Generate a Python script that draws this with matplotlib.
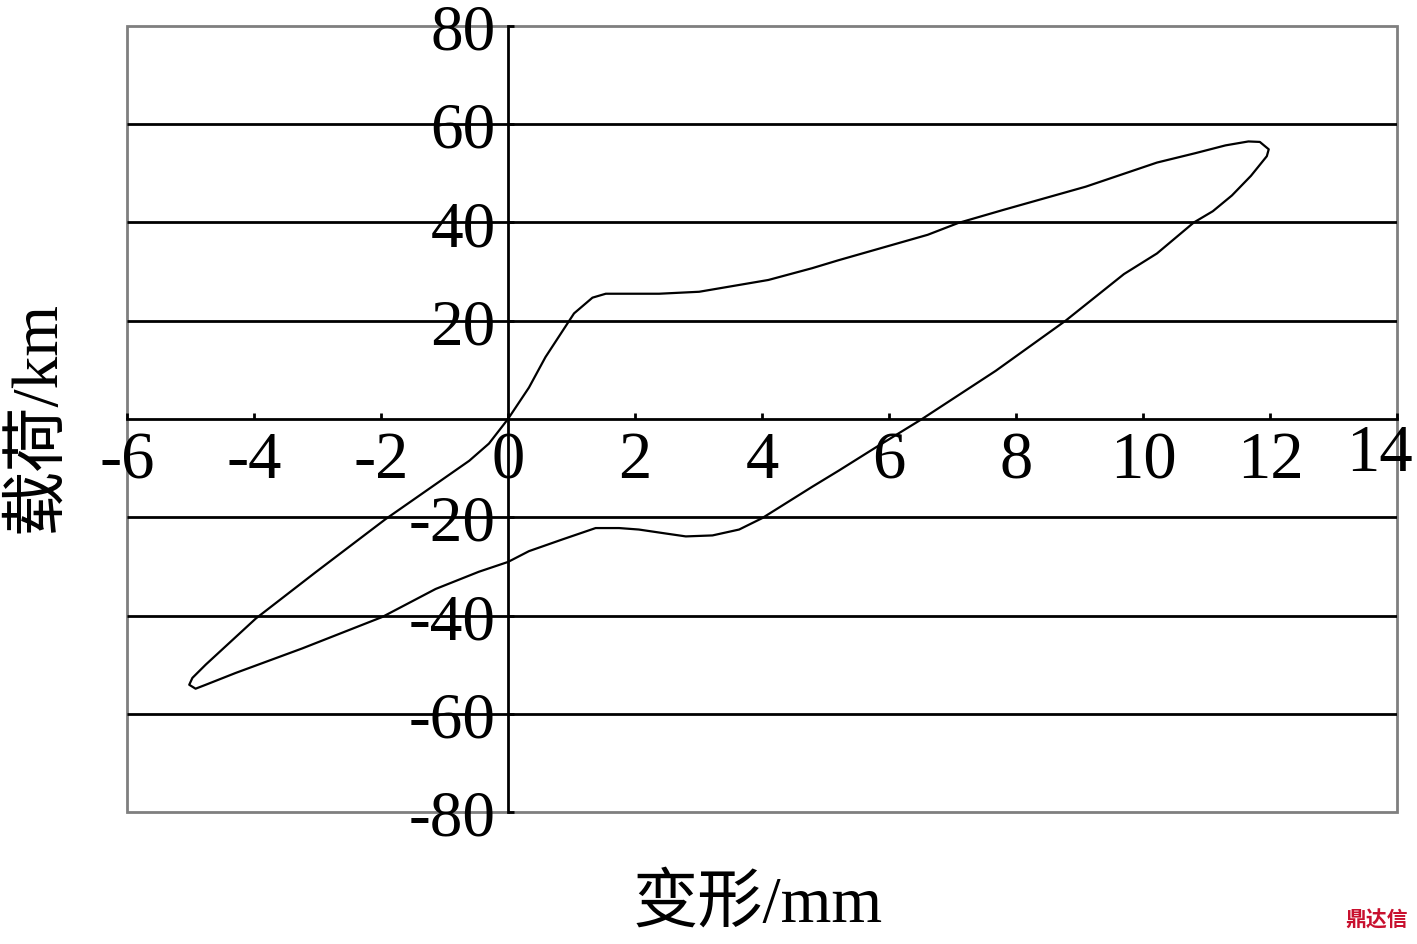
import matplotlib.pyplot as plt
from matplotlib.patches import Rectangle
from matplotlib.transforms import ScaledTranslation

plt.rcParams['font.family'] = ['Liberation Serif', 'Noto Sans CJK SC', 'DejaVu Sans']

# hysteresis loop (deformation mm, load)
deform = [0, 0.33, 0.59, 1.04, 1.33, 1.54, 2.38, 3.01, 4.1, 4.79, 5.2,
          6.61, 7.09, 7.81, 9.1, 10.22, 10.82, 11.3, 11.66, 11.84, 11.98,
          11.95, 11.7, 11.4, 11.1, 10.8, 10.22, 9.7, 8.78, 7.68, 6.52, 5.79,
          5.21, 4.79, 4.0, 3.64, 3.22, 2.8, 2.48, 2.06, 1.75, 1.38, 0.86,
          0.33, 0, -0.46, -1.14, -1.98, -3.24, -4.29, -4.76, -4.92, -5.02,
          -4.97, -4.76, -3.97, -3.03, -1.93, -0.61, -0.30, 0]
load = [0, 6.4, 12.6, 21.5, 24.7, 25.5, 25.5, 25.9, 28.3, 30.7, 32.3,
        37.5, 39.9, 42.6, 47.3, 52.2, 54.1, 55.7, 56.5, 56.4, 54.9,
        53.5, 49.5, 45.5, 42.3, 40.0, 33.7, 29.5, 20.0, 9.8, 0, -5.8,
        -10.5, -13.8, -20.2, -22.5, -23.7, -23.9, -23.3, -22.5, -22.2, -22.2, -24.5,
        -26.9, -29.1, -31.1, -34.6, -40.3, -46.7, -51.7, -54.1, -54.9, -54.1,
        -52.7, -50.0, -40.6, -31.2, -20.4, -8.5, -5.0, 0]

x_ticks = [-6, -4, -2, 0, 2, 4, 6, 8, 10, 12, 14]
y_ticks = [-80, -60, -40, -20, 20, 40, 60, 80]
grid_levels = [-60, -40, -20, 20, 40, 60]

fig = plt.figure(figsize=(14.17, 9.45), dpi=100)
ax = fig.add_axes([127 / 1417, 1 - 813 / 945, 1270 / 1417, 786 / 945])
ax.set_xlim(-6, 14)
ax.set_ylim(-80, 80)

# gray outer frame
ax.add_patch(Rectangle((0, 0), 1, 1, transform=ax.transAxes, fill=False,
                       edgecolor='#7f7f7f', lw=2, clip_on=False, zorder=1))
ax.spines['top'].set_visible(False)
ax.spines['right'].set_visible(False)

# axes through the origin
for side in ['left', 'bottom']:
    ax.spines[side].set_position(('data', 0))
    ax.spines[side].set_color('black')
    ax.spines[side].set_linewidth(2)

ax.hlines(grid_levels, -6, 14, colors='black', lw=2, zorder=2)

ax.set_xticks(x_ticks)
ax.set_xticklabels([str(v) for v in x_ticks])
ax.set_yticks(y_ticks)
ax.set_yticklabels([str(v) for v in y_ticks])
ax.tick_params(axis='x', direction='in', length=4, width=2, labelsize=48, pad=8)
ax.tick_params(axis='y', direction='in', length=4, width=2, labelsize=47, pad=9)

# last x label sits a little left and higher, as in the original
last = ax.get_xticklabels()[-1]
last.set_transform(last.get_transform() + ScaledTranslation(-13 / 72, 5 / 72, fig.dpi_scale_trans))

ax.plot(deform, load, color='black', lw=1.6, zorder=3)

fig.text(758 / 1417, 1 - 905 / 945, '变形/mm', fontsize=47, ha='center', va='center')
fig.text(38 / 1417, 1 - 417 / 945, '载荷/km', fontsize=47, ha='center', va='center',
         rotation=90)
fig.text(1408 / 1417, 1 - 920 / 945, '鼎达信', fontsize=15, ha='right', va='center',
         color='#c8102e', fontweight='bold', family=['Noto Sans CJK SC'])

fig.savefig('out.png', dpi=100)
